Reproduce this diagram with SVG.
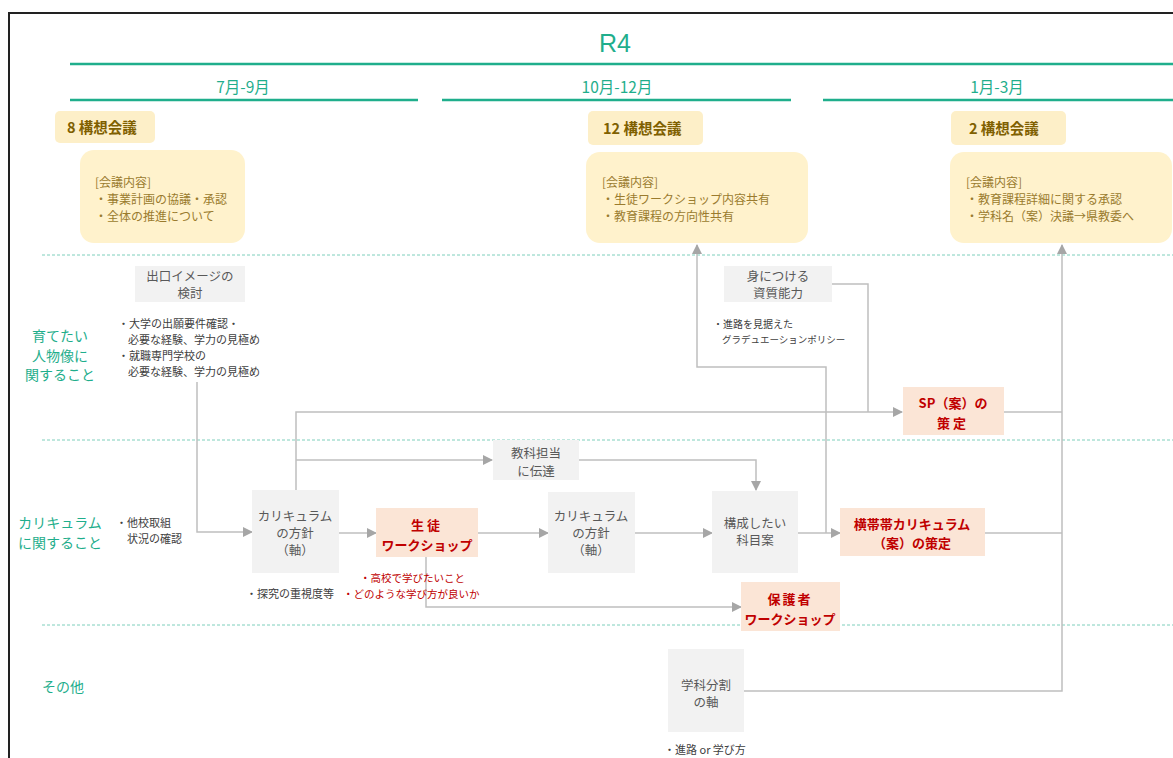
<svg xmlns="http://www.w3.org/2000/svg" width="1173" height="758" viewBox="0 0 1173 758">
<defs>
<style>
text{font-family:"Noto Sans CJK JP","Noto Sans",sans-serif;}
.teal{stroke:#1fae8c;stroke-width:2.5;fill:none}
.sep{stroke:#7fcfbc;stroke-width:1;stroke-dasharray:3 2;fill:none}
.per{fill:#1fae8c;font-size:15.5px;text-anchor:middle}
.lab{fill:#1fae8c;font-size:14px;text-anchor:middle}
.mt{fill:#fdefc8}
.mtt{fill:#7f6000;font-size:14.5px;font-weight:bold}
.mc{fill:#fff2cc}
.mct{fill:#9a7b2e;font-size:12px}
.gn{fill:#f2f2f2}
.gt{fill:#595959;font-size:12.5px;text-anchor:middle}
.pn{fill:#fbe5d6}
.pt{fill:#c00000;font-size:13px;font-weight:bold;text-anchor:middle}
.bt{fill:#404040;font-size:11px}
.rt{fill:#c00000;font-size:10.5px}
.con{stroke:#bfbfbf;stroke-width:1.5;fill:none}
</style>
<marker id="ah" markerWidth="10" markerHeight="10" refX="9" refY="5" orient="auto" markerUnits="userSpaceOnUse">
<path d="M0,0 L10,5 L0,10 Z" fill="#a6a6a6"/>
</marker>
</defs>
<rect x="0" y="0" width="1173" height="758" fill="#ffffff"/>
<rect x="9" y="13" width="1200" height="800" fill="none" stroke="#222222" stroke-width="2"/>

<g id="header">
<text x="615" y="52" fill="#1fae8c" font-size="25" text-anchor="middle" style="font-family:'Liberation Sans',Arial,sans-serif">R4</text>
<line class="teal" x1="70" y1="64" x2="1173" y2="64"/>
<line class="teal" x1="70" y1="100" x2="418" y2="100"/>
<line class="teal" x1="442" y1="100" x2="791" y2="100"/>
<line class="teal" x1="823" y1="100" x2="1173" y2="100"/>
<text class="per" x="243" y="93">7月-9月</text>
<text class="per" x="617" y="93">10月-12月</text>
<text class="per" x="997" y="93">1月-3月</text>
</g>

<g id="separators">
<line class="sep" x1="42" y1="255" x2="1173" y2="255"/>
<line class="sep" x1="42" y1="440" x2="1173" y2="440"/>
<line class="sep" x1="42" y1="625" x2="1173" y2="625"/>
</g>

<g id="row-labels">
<text class="lab" x="60" y="341">育てたい</text>
<text class="lab" x="60" y="360.5">人物像に</text>
<text class="lab" x="60" y="380">関すること</text>
<text class="lab" x="60" y="528">カリキュラム</text>
<text class="lab" x="60" y="547.5">に関すること</text>
<text class="lab" x="42" y="692" style="text-anchor:start">その他</text>
</g>

<g id="meeting-8">
<rect class="mt" x="55" y="111" width="100" height="32" rx="5"/>
<text class="mtt" x="67" y="133">8 構想会議</text>
<rect class="mc" x="80" y="150" width="165" height="93" rx="14"/>
<text class="mct" x="95" y="187">[会議内容]</text>
<text class="mct" x="95" y="204">・事業計画の協議・承認</text>
<text class="mct" x="95" y="221">・全体の推進について</text>
</g>

<g id="meeting-12">
<rect class="mt" x="588" y="111" width="115" height="34" rx="5"/>
<text class="mtt" x="603" y="134">12 構想会議</text>
<rect class="mc" x="586" y="152" width="222" height="91" rx="14"/>
<text class="mct" x="602" y="187">[会議内容]</text>
<text class="mct" x="602" y="204">・生徒ワークショップ内容共有</text>
<text class="mct" x="602" y="221">・教育課程の方向性共有</text>
</g>

<g id="meeting-2">
<rect class="mt" x="951" y="111" width="115" height="34" rx="5"/>
<text class="mtt" x="969" y="134">2 構想会議</text>
<rect class="mc" x="950" y="152" width="222" height="91" rx="14"/>
<text class="mct" x="966" y="187">[会議内容]</text>
<text class="mct" x="966" y="204">・教育課程詳細に関する承認</text>
<text class="mct" x="966" y="221">・学科名（案）決議→県教委へ</text>
</g>

<g id="connectors">
<path class="con" d="M197 382 V532 H252" marker-end="url(#ah)"/>
<path class="con" d="M339 533 H376" marker-end="url(#ah)"/>
<path class="con" d="M296 490 V412 H902" marker-end="url(#ah)"/>
<path class="con" d="M296 460 H492" marker-end="url(#ah)"/>
<path class="con" d="M579 460 H756 V490" marker-end="url(#ah)"/>
<path class="con" d="M478 533 H548" marker-end="url(#ah)"/>
<path class="con" d="M635 533 H712" marker-end="url(#ah)"/>
<path class="con" d="M798 533 H840" marker-end="url(#ah)"/>
<path class="con" d="M426 557 V607 H741" marker-end="url(#ah)"/>
<path class="con" d="M826 533 V367 H697 V245" marker-end="url(#ah)"/>
<path class="con" d="M832 284 H868 V412"/>
<path class="con" d="M1004 412 H1062"/>
<path class="con" d="M985 533 H1062"/>
<path class="con" d="M744 691 H1062 V245" marker-end="url(#ah)"/>
</g>

<g id="exit-image">
<rect class="gn" x="135" y="266" width="110" height="36"/>
<text class="gt" x="190" y="281">出口イメージの</text>
<text class="gt" x="190" y="298">検討</text>
<text class="bt" x="118" y="328">・大学の出願要件確認・</text>
<text class="bt" x="128" y="344">必要な経験、学力の見極め</text>
<text class="bt" x="118" y="360">・就職専門学校の</text>
<text class="bt" x="128" y="376">必要な経験、学力の見極め</text>
</g>

<g id="competency">
<rect class="gn" x="724" y="266" width="108" height="36"/>
<text class="gt" x="778" y="281">身につける</text>
<text class="gt" x="778" y="298">資質能力</text>
<text class="bt" x="713" y="328" style="font-size:10px">・進路を見据えた</text>
<text class="bt" x="722" y="343" style="font-size:9.5px">グラデュエーションポリシー</text>
</g>

<g id="sp-plan">
<rect class="pn" x="903" y="387" width="101" height="48"/>
<text class="pt" x="953" y="408">SP（案）の</text>
<text class="pt" x="953" y="428" letter-spacing="3">策定</text>
</g>

<g id="other-schools">
<text class="bt" x="116" y="527">・他校取組</text>
<text class="bt" x="127" y="543">状況の確認</text>
</g>

<g id="policy-1">
<rect class="gn" x="252" y="490" width="87" height="83"/>
<text class="gt" x="295" y="521">カリキュラム</text>
<text class="gt" x="295" y="538">の方針</text>
<text class="gt" x="295" y="555">（軸）</text>
<text class="bt" x="246" y="598">・探究の重視度等</text>
</g>

<g id="teacher-notice">
<rect class="gn" x="493" y="440" width="86" height="40"/>
<text class="gt" x="536" y="458">教科担当</text>
<text class="gt" x="536" y="476">に伝達</text>
</g>

<g id="student-ws">
<rect class="pn" x="376" y="508" width="102" height="49"/>
<text class="pt" x="427" y="530" letter-spacing="3">生徒</text>
<text class="pt" x="427" y="550">ワークショップ</text>
<text class="rt" x="360" y="582">・高校で学びたいこと</text>
<text class="rt" x="343" y="598">・どのような学び方が良いか</text>
</g>

<g id="policy-2">
<rect class="gn" x="548" y="492" width="87" height="81"/>
<text class="gt" x="591" y="521">カリキュラム</text>
<text class="gt" x="591" y="538">の方針</text>
<text class="gt" x="591" y="555">（軸）</text>
</g>

<g id="subjects">
<rect class="gn" x="712" y="491" width="86" height="82"/>
<text class="gt" x="755" y="528">構成したい</text>
<text class="gt" x="755" y="545">科目案</text>
</g>

<g id="cross-curriculum">
<rect class="pn" x="840" y="508" width="145" height="48"/>
<text class="pt" x="912" y="529">横帯帯カリキュラム</text>
<text class="pt" x="912" y="548">（案）の策定</text>
</g>

<g id="parent-ws">
<rect class="pn" x="741" y="582" width="99" height="49"/>
<text class="pt" x="790" y="604" letter-spacing="2">保護者</text>
<text class="pt" x="790" y="624">ワークショップ</text>
</g>

<g id="dept-axis">
<rect class="gn" x="668" y="649" width="76" height="83"/>
<text class="gt" x="706" y="690">学科分割</text>
<text class="gt" x="706" y="707">の軸</text>
<text class="bt" x="664" y="754">・進路 or 学び方</text>
</g>
</svg>
